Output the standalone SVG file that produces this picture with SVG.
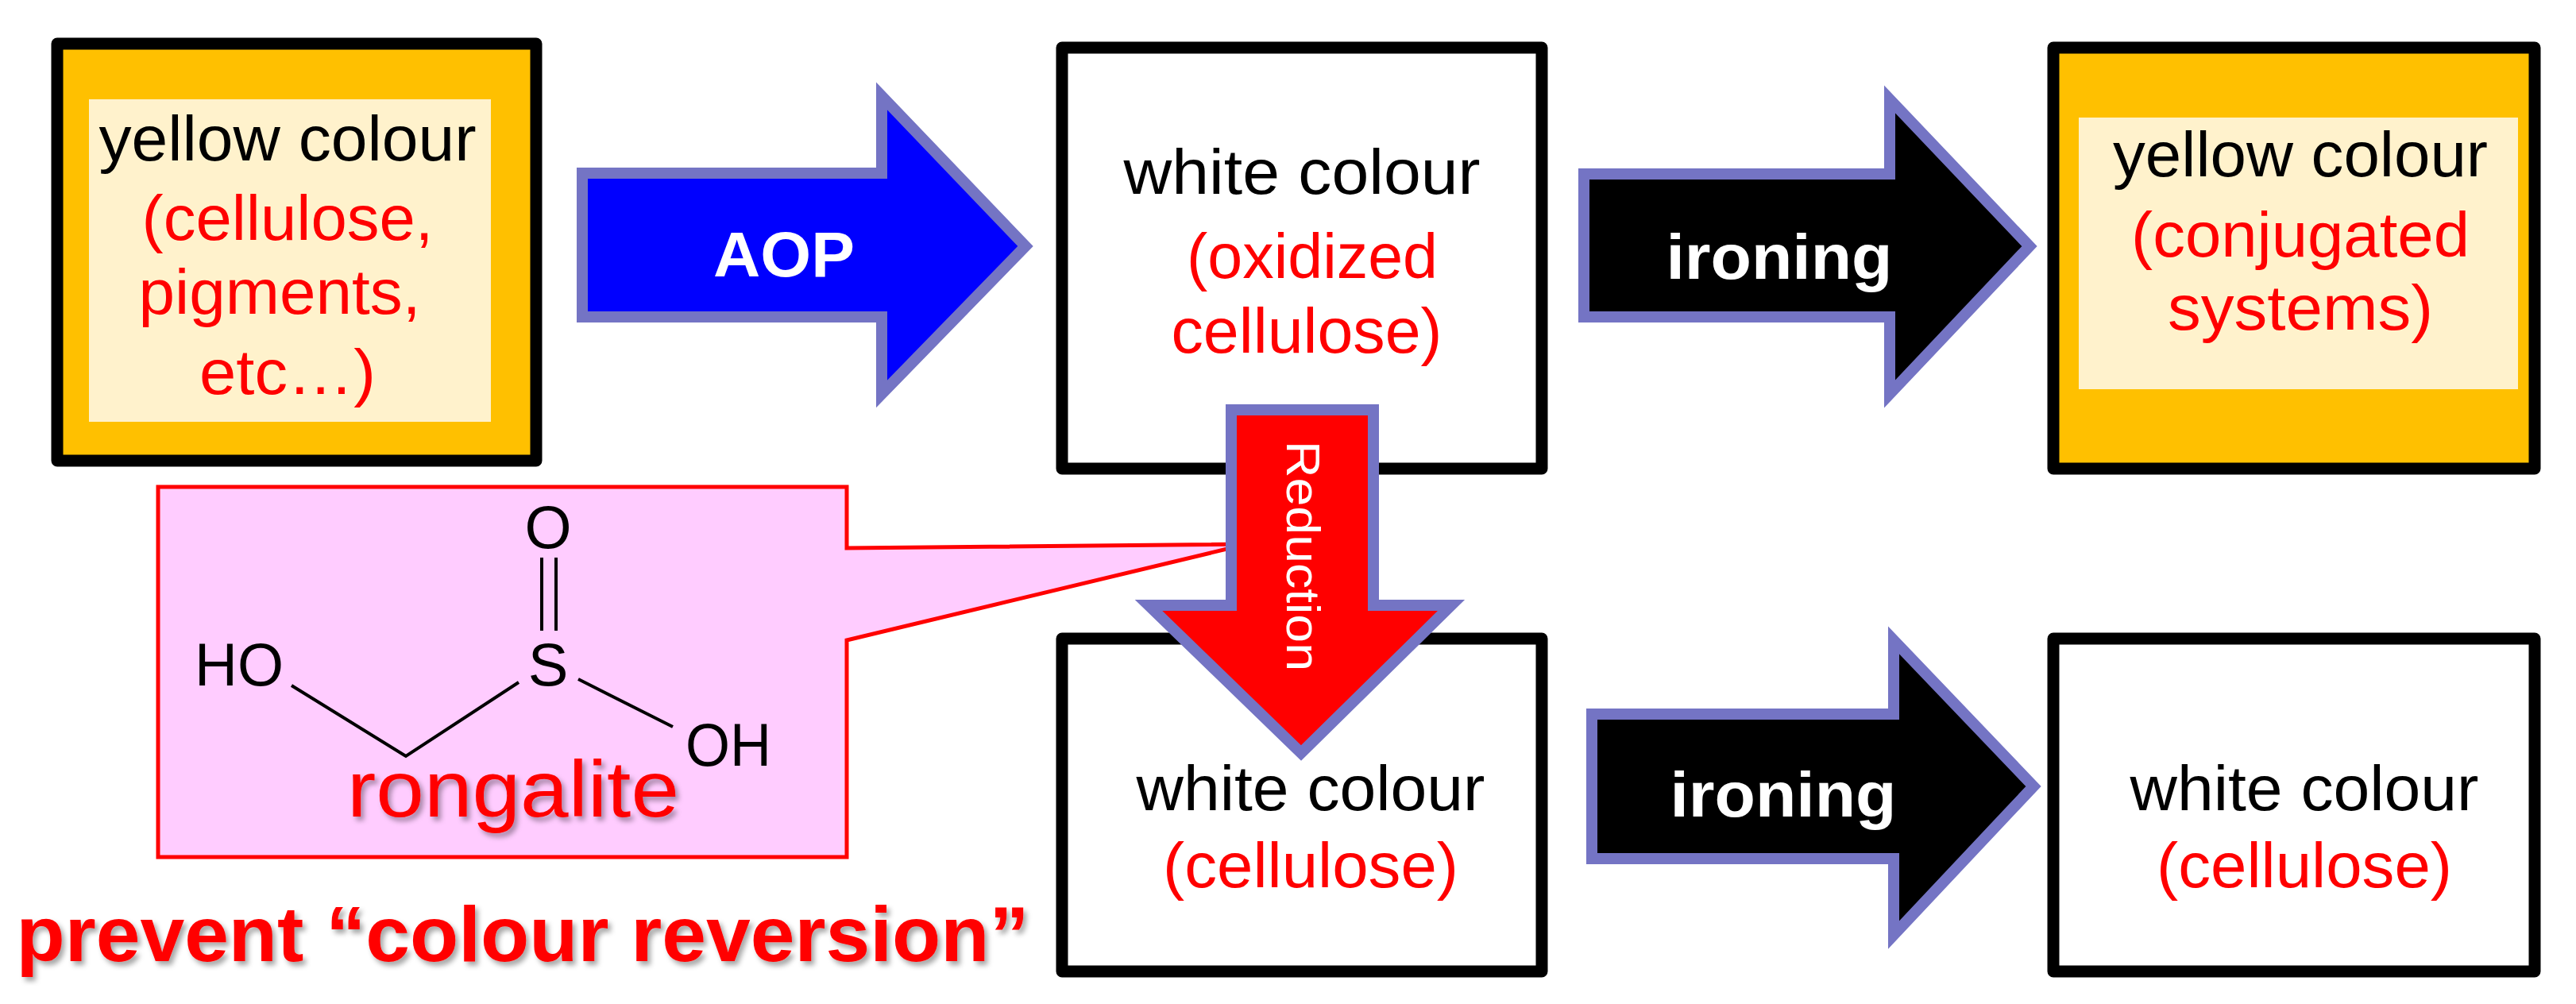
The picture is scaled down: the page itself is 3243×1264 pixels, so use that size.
<svg xmlns="http://www.w3.org/2000/svg" width="3243" height="1264" viewBox="0 0 3243 1264">
<style>
text{font-family:"Liberation Sans",Arial,sans-serif;text-anchor:middle}
.t{font-size:80px}
.k{fill:#000}
.r{fill:#FF0000}
.w{fill:#fff}
.box{fill:#fff;stroke:#000;stroke-width:15;stroke-linejoin:round}
.ybox{fill:#FFC000;stroke:#000;stroke-width:15;stroke-linejoin:round}
.cream{fill:#FFF2CC}
.arrow{stroke:#7474C4;stroke-width:14;stroke-linejoin:miter}
.bond{stroke:#000;stroke-width:4;fill:none}
</style>
<defs>
<filter id="sh" x="-5%" y="-20%" width="110%" height="140%">
<feDropShadow dx="4" dy="5" stdDeviation="3" flood-color="#000" flood-opacity="0.35"/>
</filter>
</defs>

<g id="connectors">
<path class="arrow" fill="#0000FF" d="M733,218 H1110 V121 L1291,310 L1110,496 V399 H733 Z"/>
<path class="arrow" fill="#000" d="M1994,219 H2379 V125 L2555,310 L2379,496 V399 H1994 Z"/>
<path class="arrow" fill="#000" d="M2004,899 H2384 V806 L2560,990 L2384,1177 V1081 H2004 Z"/>
</g>

<g id="n1">
<rect class="ybox" x="72" y="55" width="603" height="525"/>
<rect class="cream" x="112" y="125" width="506" height="406"/>
<text class="t k" x="362" y="202" textLength="475" lengthAdjust="spacingAndGlyphs">yellow colour</text>
<text class="t r" x="362" y="302" textLength="367" lengthAdjust="spacingAndGlyphs">(cellulose,</text>
<text class="t r" x="352" y="395" textLength="355" lengthAdjust="spacingAndGlyphs">pigments,</text>
<text class="t r" x="362" y="496" textLength="222" lengthAdjust="spacingAndGlyphs">etc…)</text>
</g>

<g id="n2">
<rect class="box" x="1337" y="60" width="604" height="530"/>
<text class="t k" x="1639" y="244" textLength="449" lengthAdjust="spacingAndGlyphs">white colour</text>
<text class="t r" x="1652" y="350" textLength="316" lengthAdjust="spacingAndGlyphs">(oxidized</text>
<text class="t r" x="1645" y="444" textLength="341" lengthAdjust="spacingAndGlyphs">cellulose)</text>
</g>

<g id="n3">
<rect class="ybox" x="2585" y="60" width="606" height="530"/>
<rect class="cream" x="2617" y="148" width="553" height="342"/>
<text class="t k" x="2896" y="222" textLength="472" lengthAdjust="spacingAndGlyphs">yellow colour</text>
<text class="t r" x="2896" y="323" textLength="426" lengthAdjust="spacingAndGlyphs">(conjugated</text>
<text class="t r" x="2896" y="415" textLength="334" lengthAdjust="spacingAndGlyphs">systems)</text>
</g>

<g id="n4">
<rect class="box" x="1337" y="804" width="604" height="419"/>
<text class="t k" x="1650" y="1020" textLength="439" lengthAdjust="spacingAndGlyphs">white colour</text>
<text class="t r" x="1650" y="1117" textLength="372" lengthAdjust="spacingAndGlyphs">(cellulose)</text>
</g>

<g id="n5">
<rect class="box" x="2585" y="804" width="606" height="419"/>
<text class="t k" x="2901" y="1020" textLength="439" lengthAdjust="spacingAndGlyphs">white colour</text>
<text class="t r" x="2901" y="1117" textLength="372" lengthAdjust="spacingAndGlyphs">(cellulose)</text>
</g>

<g id="labels">
<text class="w" x="987" y="348" font-size="80" font-weight="bold" textLength="178" lengthAdjust="spacingAndGlyphs">AOP</text>
<text class="w" x="2240" y="351" font-size="80" font-weight="bold" textLength="285" lengthAdjust="spacingAndGlyphs">ironing</text>
<text class="w" x="2245" y="1028" font-size="80" font-weight="bold" textLength="285" lengthAdjust="spacingAndGlyphs">ironing</text>
</g>

<g id="callout">
<path fill="#FFCCFF" stroke="#FF0000" stroke-width="5" d="M199,613 H1066 V690 L1570,685 L1066,806 V1079 H199 Z"/>
<text x="245" y="863" font-size="76" class="k" style="text-anchor:start" textLength="112" lengthAdjust="spacingAndGlyphs">HO</text>
<text x="690" y="690" font-size="76" class="k">O</text>
<text x="690" y="863" font-size="76" class="k">S</text>
<text x="917" y="964" font-size="76" class="k" textLength="108" lengthAdjust="spacingAndGlyphs">OH</text>
<path class="bond" d="M367,863 L511,952 L653,859 M728,855 L847,915 M682,702 V794 M700,702 V794"/>
<text x="646" y="1028" font-size="100" class="r" filter="url(#sh)" textLength="418" lengthAdjust="spacingAndGlyphs">rongalite</text>
</g>

<g id="reduction">
<path class="arrow" fill="#FF0000" d="M1550,516 H1729 V762 H1827 L1638,948 L1446,762 H1550 Z"/>
<text class="w" font-size="60" transform="translate(1620,700) rotate(90)" textLength="290" lengthAdjust="spacingAndGlyphs">Reduction</text>
</g>

<text x="658" y="1210" font-size="98" font-weight="bold" class="r" filter="url(#sh)" textLength="1275" lengthAdjust="spacingAndGlyphs">prevent “colour reversion”</text>
</svg>
